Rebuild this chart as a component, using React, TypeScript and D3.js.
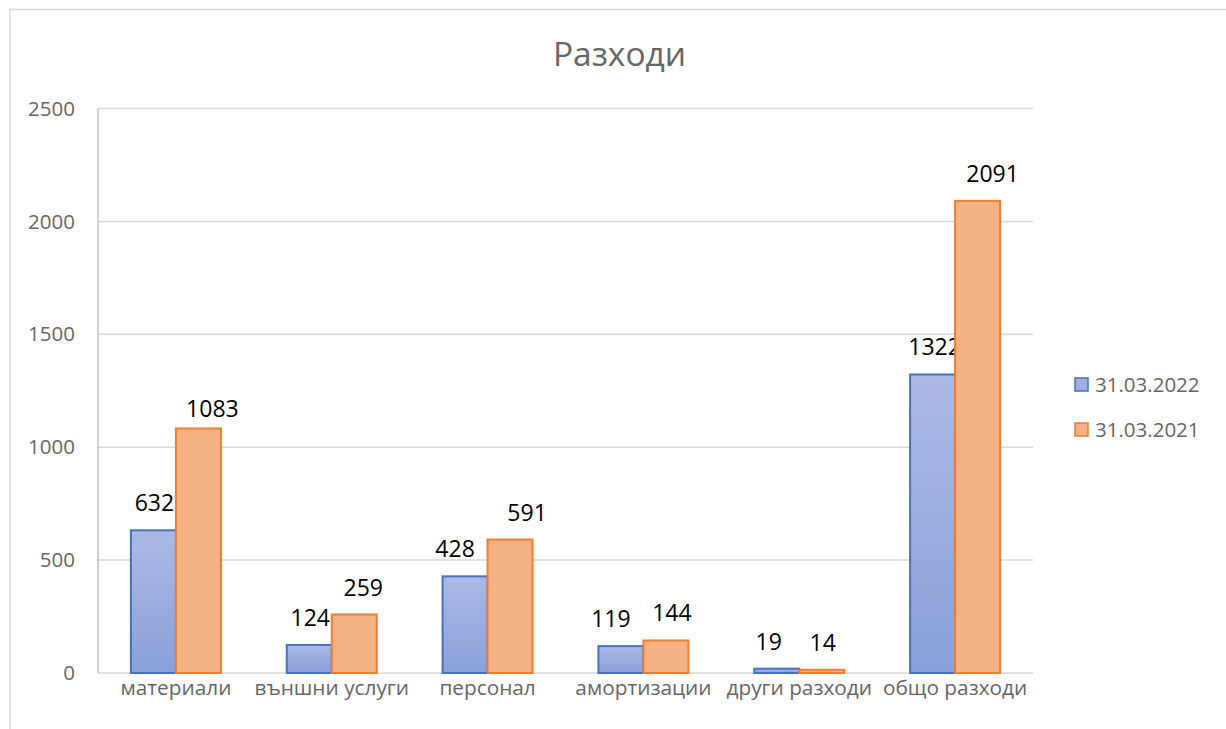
import { useRef, useEffect } from 'react';
import * as d3 from 'd3';

// chart data
const categories = ['материали', 'външни услуги', 'персонал', 'амортизации', 'други разходи', 'общо разходи'];
const series2022 = [632, 124, 428, 119, 19, 1322];
const series2021 = [1083, 259, 591, 144, 14, 2091];
const seriesNames = ['31.03.2022', '31.03.2021'];
const yTicks = [0, 500, 1000, 1500, 2000, 2500];

// label nudges (labels in the original were moved a bit by hand)
const labelDx = [
  [1, 1, -10, -10, -8, 2],
  [14, 9, 17, 6, 1, 15],
];
const labelDy = [
  [0, 0, 0, 0, 0, 0],
  [8, 0, 0, 0, 0, 0],
];

const FONT = '"Open Sans", sans-serif';

const App = () => {
  const svgRef = useRef<SVGSVGElement>(null);

  useEffect(() => {
    const w = 1226;
    const h = 729;
    const svg = d3.select(svgRef.current)
      .attr('width', w)
      .attr('height', h);
    svg.selectAll('*').remove();

    const defs = svg.append('defs');
    const grad = defs.append('linearGradient')
      .attr('id', 'blueGrad')
      .attr('x1', 0).attr('y1', 0).attr('x2', 0).attr('y2', 1);
    grad.append('stop').attr('offset', '0%').attr('stop-color', '#abb9e3');
    grad.append('stop').attr('offset', '100%').attr('stop-color', '#8aa0da');

    // chart border (runs off the right and bottom of the page)
    svg.append('rect')
      .attr('x', 10).attr('y', 9.5)
      .attr('width', 1300).attr('height', 800)
      .attr('fill', 'white')
      .attr('stroke', '#d9d9d9')
      .attr('stroke-width', 1.5);

    const left = 98, right = 1033, top = 108.5, bottom = 673;

    const x = d3.scaleBand<string>()
      .domain(categories)
      .range([left, right])
      .paddingInner(0.4225)
      .paddingOuter(0.21125);
    const x1 = d3.scaleBand<number>()
      .domain([0, 1])
      .range([0, x.bandwidth()]);
    const y = d3.scaleLinear()
      .domain([0, 2500])
      .range([bottom, top]);

    // gridlines
    svg.append('g')
      .selectAll('line')
      .data(yTicks)
      .enter()
      .append('line')
        .attr('x1', left)
        .attr('x2', right)
        .attr('y1', d => y(d))
        .attr('y2', d => y(d))
        .attr('stroke', '#d9d9d9')
        .attr('stroke-width', 1.5);

    // y axis line
    svg.append('line')
      .attr('x1', left).attr('x2', left)
      .attr('y1', top).attr('y2', bottom)
      .attr('stroke', '#a6a6a6')
      .attr('stroke-width', 1);

    // y tick labels
    svg.append('g')
      .selectAll('text')
      .data(yTicks)
      .enter()
      .append('text')
        .attr('x', 75)
        .attr('y', d => y(d))
        .attr('dy', '0.35em')
        .attr('text-anchor', 'end')
        .attr('font-family', FONT)
        .attr('font-size', 20.5)
        .attr('fill', '#666')
        .text(d => d);

    const allSeries = [series2022, series2021];
    const fills = ['url(#blueGrad)', '#f4b183'];
    const strokes = ['#4472c4', '#ed7d31'];

    allSeries.forEach((vals, s) => {
      const g = svg.append('g');
      g.selectAll('rect')
        .data(vals)
        .enter()
        .append('rect')
          .attr('x', (d, i) => (x(categories[i]) as number) + (x1(s) as number))
          .attr('y', d => y(d))
          .attr('width', x1.bandwidth())
          .attr('height', d => y(0) - y(d))
          .attr('fill', fills[s])
          .attr('stroke', strokes[s])
          .attr('stroke-width', 2);

      g.selectAll('text')
        .data(vals)
        .enter()
        .append('text')
          .attr('x', (d, i) => (x(categories[i]) as number) + (x1(s) as number) + x1.bandwidth() / 2 + labelDx[s][i])
          .attr('y', (d, i) => y(d) - 19 + labelDy[s][i])
          .attr('text-anchor', 'middle')
          .attr('font-family', FONT)
          .attr('font-size', 23)
          .attr('fill', '#000')
          .text(d => d);
    });

    // x category labels
    svg.append('g')
      .selectAll('text')
      .data(categories)
      .enter()
      .append('text')
        .attr('x', d => (x(d) as number) + x.bandwidth() / 2)
        .attr('y', 695)
        .attr('text-anchor', 'middle')
        .attr('font-family', FONT)
        .attr('font-size', 20.8)
        .attr('fill', '#666')
        .text(d => d);

    // title
    svg.append('text')
      .attr('x', 619.5)
      .attr('y', 66)
      .attr('text-anchor', 'middle')
      .attr('font-family', FONT)
      .attr('font-size', 33.5)
      .attr('fill', '#666')
      .text('Разходи');

    // legend
    const legend = svg.append('g');
    const legendFills = ['#9eafe0', '#f4b183'];
    seriesNames.forEach((name, i) => {
      const cy = 385 + i * 45;
      legend.append('rect')
        .attr('x', 1075)
        .attr('y', cy - 7)
        .attr('width', 13)
        .attr('height', 13)
        .attr('fill', legendFills[i])
        .attr('stroke', strokes[i])
        .attr('stroke-width', 1.5);
      legend.append('text')
        .attr('x', 1095)
        .attr('y', cy)
        .attr('dy', '0.35em')
        .attr('font-family', FONT)
        .attr('font-size', 20.5)
        .attr('fill', '#666')
        .text(name);
    });
  }, []);

  return (
    <div>
      <svg ref={svgRef} style={{ position: 'absolute', left: 0, top: 0 }}></svg>
    </div>
  );
};

export default App;
